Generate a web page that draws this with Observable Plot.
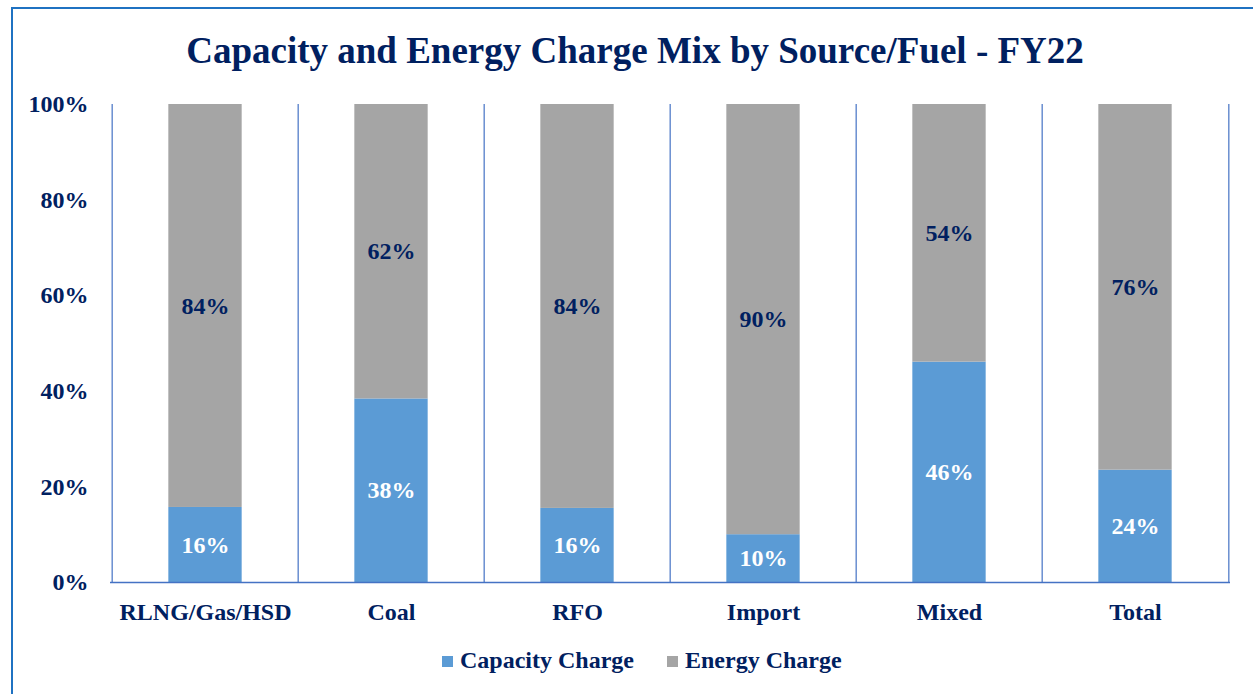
<!DOCTYPE html>
<html>
<head>
<meta charset="utf-8">
<script src="https://cdn.jsdelivr.net/npm/d3@7"></script>
<script src="https://cdn.jsdelivr.net/npm/@observablehq/plot@0.6"></script>
<style>
  html, body { margin: 0; padding: 0; background: #ffffff; }
  #wrap { position: relative; width: 1253px; height: 694px; overflow: hidden; background: #fff; }
  #frame { position: absolute; left: 11px; top: 7px; width: 1300px; height: 800px; border: 2px solid #1F72C2; box-sizing: border-box; }
  #title { position: absolute; left: 0; width: 1270px; top: 32px; text-align: center;
    font-family: "Liberation Serif", "Times New Roman", serif; font-weight: bold; font-size: 37px; line-height: 37px; color: #002060; white-space: nowrap; }
  #chart { position: absolute; left: 0; top: 0; }
  #legend { position: absolute; left: 442px; top: 648px; display: flex; align-items: center;
    font-family: "Liberation Serif", "Times New Roman", serif; font-weight: bold; font-size: 24px; line-height: 24px; color: #002060; white-space: nowrap; }
  .sw { display: inline-block; width: 11px; height: 11px; margin-right: 7px; margin-top: 2px; }
  .item { display: flex; align-items: center; }
</style>
</head>
<body>
<div id="wrap">
  <div id="frame"></div>
  <div id="chart"></div>
  <div id="title"></div>
  <div id="legend"></div>
</div>
<script>
const titleText = "Capacity and Energy Charge Mix by Source/Fuel - FY22";
const categories = ["RLNG/Gas/HSD", "Coal", "RFO", "Import", "Mixed", "Total"];
const seriesNames = ["Capacity Charge", "Energy Charge"];
const seriesColors = ["#5B9BD5", "#A5A5A5"];
// shares in percent
const capacityShare = [15.7, 38.4, 15.5, 10.0, 46.1, 23.5];
const energyShare = [84.3, 61.6, 84.5, 90.0, 53.9, 76.5];
const capacityLabels = ["16%", "38%", "16%", "10%", "46%", "24%"];
const energyLabels = ["84%", "62%", "84%", "90%", "54%", "76%"];
const yTicks = [0, 20, 40, 60, 80, 100];

const rows = [];
categories.forEach((c, i) => {
  rows.push({category: c, series: seriesNames[0], value: capacityShare[i], label: capacityLabels[i]});
  rows.push({category: c, series: seriesNames[1], value: energyShare[i], label: energyLabels[i]});
});

const W = 1253, H = 640;
const mL = 110, mR = 23, mT = 104, mB = 58;
const bandW = (W - mL - mR) / categories.length;
const inset = (bandW - 74) / 2;
const navy = "#002060";
const lineColor = "#4472C4";
const serif = "'Liberation Serif', 'Times New Roman', serif";

const chart = Plot.plot({
  width: W,
  height: H,
  marginLeft: mL,
  marginRight: mR,
  marginTop: mT,
  marginBottom: mB,
  style: {fontFamily: serif, fontWeight: "bold", fontSize: "24px", color: navy, background: "transparent", overflow: "visible"},
  x: {domain: categories, padding: 0, label: null},
  y: {domain: [0, 100], label: null},
  color: {domain: seriesNames, range: seriesColors},
  marks: [
    Plot.barY(rows, Plot.stackY({x: "category", y: "value", fill: "series", insetLeft: inset, insetRight: inset})),
    Plot.ruleX(categories, {x: d => d, dx: -bandW / 2, y1: 0, y2: 100, stroke: lineColor, strokeWidth: 1.2}),
    Plot.ruleX([categories[categories.length - 1]], {x: d => d, dx: bandW / 2, y1: 0, y2: 100, stroke: lineColor, strokeWidth: 1.2}),
    Plot.ruleY([0], {stroke: lineColor, strokeWidth: 1.5}),
    Plot.text(rows.filter(d => d.series === seriesNames[0]), Plot.stackY({x: "category", y: "value", text: "label", fill: "#ffffff", fontSize: 24, fontWeight: "bold", fontFamily: serif})),
    Plot.text(rows, Plot.stackY({x: "category", y: "value", z: "series", text: d => d.series === seriesNames[1] ? d.label : "", fill: navy, fontSize: 24, fontWeight: "bold", fontFamily: serif})),
    Plot.axisY({ticks: yTicks, tickFormat: d => d + "%", tickSize: 0, tickPadding: 22, fill: navy, fontSize: 24, fontWeight: "bold"}),
    Plot.axisX({tickSize: 0, tickPadding: 20, fill: navy, fontSize: 24, fontWeight: "bold"})
  ]
});
document.getElementById("chart").appendChild(chart);
document.getElementById("title").textContent = titleText;

const legend = document.getElementById("legend");
seriesNames.forEach((s, i) => {
  const item = document.createElement("div");
  item.className = "item";
  if (i > 0) item.style.marginLeft = "33px";
  const sw = document.createElement("span");
  sw.className = "sw";
  sw.style.background = seriesColors[i];
  const t = document.createElement("span");
  t.textContent = s;
  item.appendChild(sw);
  item.appendChild(t);
  legend.appendChild(item);
});
</script>
</body>
</html>
